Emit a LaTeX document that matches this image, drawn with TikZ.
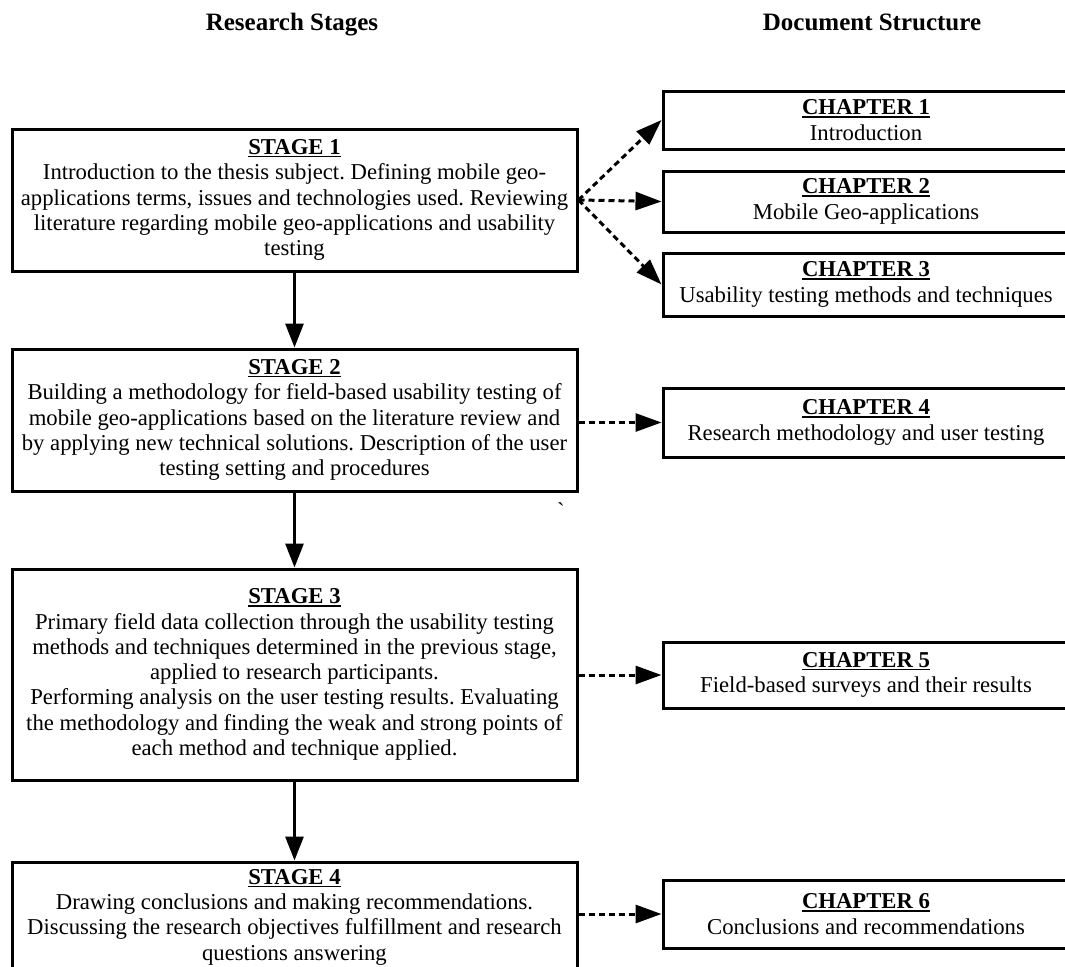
\documentclass[tikz,border=0pt]{standalone}
\usepackage{fontspec}
\setmainfont{Liberation Serif}
\usetikzlibrary{arrows.meta}
\frenchspacing

% bold heading with a rule under it
\newcommand\ulhead[1]{\setbox0\hbox{\textbf{#1}}\rlap{\rule[-3pt]{\wd0}{1.6pt}}\box0}

\tikzset{
  body/.style={font=\fontsize{22.7}{25.3}\selectfont, align=center, inner sep=0pt},
  stagebox/.style={body, draw, line width=3pt, minimum width=565pt},
  chapbox/.style={body, draw, line width=3pt, minimum width=406pt},
  colhead/.style={font=\fontsize{25}{30}\selectfont\bfseries, anchor=base, inner sep=0pt},
  flow/.style={line width=3pt, -{Triangle[length=24pt,width=18pt]}},
  link/.style={line width=3pt, dash pattern=on 6pt off 4pt, -{Triangle[length=26pt,width=18pt]}},
}

\begin{document}
\begin{tikzpicture}[x=1pt,y=-1pt]
\useasboundingbox (0,0) rectangle (1065,966);
\clip (0,0) rectangle (1065,966);

% column headings
\node[colhead] (hstages) at (292,31) {Research Stages};
\node[colhead] (hdoc) at (872,31) {Document Structure};

% research stages
\node[stagebox, minimum height=142pt] (s1) at (294.5,200) {\ulhead{STAGE 1}\\
Introduction to the thesis subject. Defining mobile geo-\\
applications terms, issues and technologies used. Reviewing\\
literature regarding mobile geo-applications and usability\\
testing};

\node[stagebox, minimum height=142pt] (s2) at (294.5,420) {\ulhead{STAGE 2}\\
Building a methodology for field-based usability testing of\\
mobile geo-applications based on the literature review and\\
by applying new technical solutions. Description of the user\\
testing setting and procedures};

\node[stagebox, minimum height=211pt] (s3) at (294.5,674.5) {\ulhead{STAGE 3}\\
Primary field data collection through the usability testing\\
methods and techniques determined in the previous stage,\\
applied to research participants.\\
Performing analysis on the user testing results. Evaluating\\
the methodology and finding the weak and strong points of\\
each method and technique applied.};

\node[stagebox, minimum height=110pt] (s4) at (294.5,917) {\ulhead{STAGE 4}\\
Drawing conclusions and making recommendations.\\
Discussing the research objectives fulfillment and research\\
questions answering};

% stray mark below stage 2
\node[body] (tick) at (561,511) {\textasciigrave};

% document chapters
\node[chapbox, minimum height=58pt] (c1) at (866,120) {\ulhead{CHAPTER 1}\\ Introduction};
\node[chapbox, minimum height=61pt] (c2) at (866,201.5) {\ulhead{CHAPTER 2}\\ Mobile Geo-applications};
\node[chapbox, minimum height=63pt] (c3) at (866,284.5) {\ulhead{CHAPTER 3}\\ Usability testing methods and techniques};
\node[chapbox, minimum height=69pt] (c4) at (866,422.5) {\ulhead{CHAPTER 4}\\ Research methodology and user testing};
\node[chapbox, minimum height=66pt] (c5) at (866,675) {\ulhead{CHAPTER 5}\\ Field-based surveys and their results};
\node[chapbox, minimum height=68pt] (c6) at (866,914) {\ulhead{CHAPTER 6}\\ Conclusions and recommendations};

% stage sequence
\draw[flow] (s1) -- (s2);
\draw[flow] (s2) -- (s3);
\draw[flow] (s3) -- (s4);

% stage to chapter links
\coordinate (fan) at (s1.east);
\fill (fan) circle (2.5pt);
\draw[link] (fan) -- (c1.west);
\draw[link] (fan) -- (c2.west);
\draw[link] (fan) -- (c3.west);
\draw[link] (s2.east |- c4.west) -- (c4.west);
\draw[link] (s3.east |- c5.west) -- (c5.west);
\draw[link] (s4.east |- c6.west) -- (c6.west);
\end{tikzpicture}
\end{document}
